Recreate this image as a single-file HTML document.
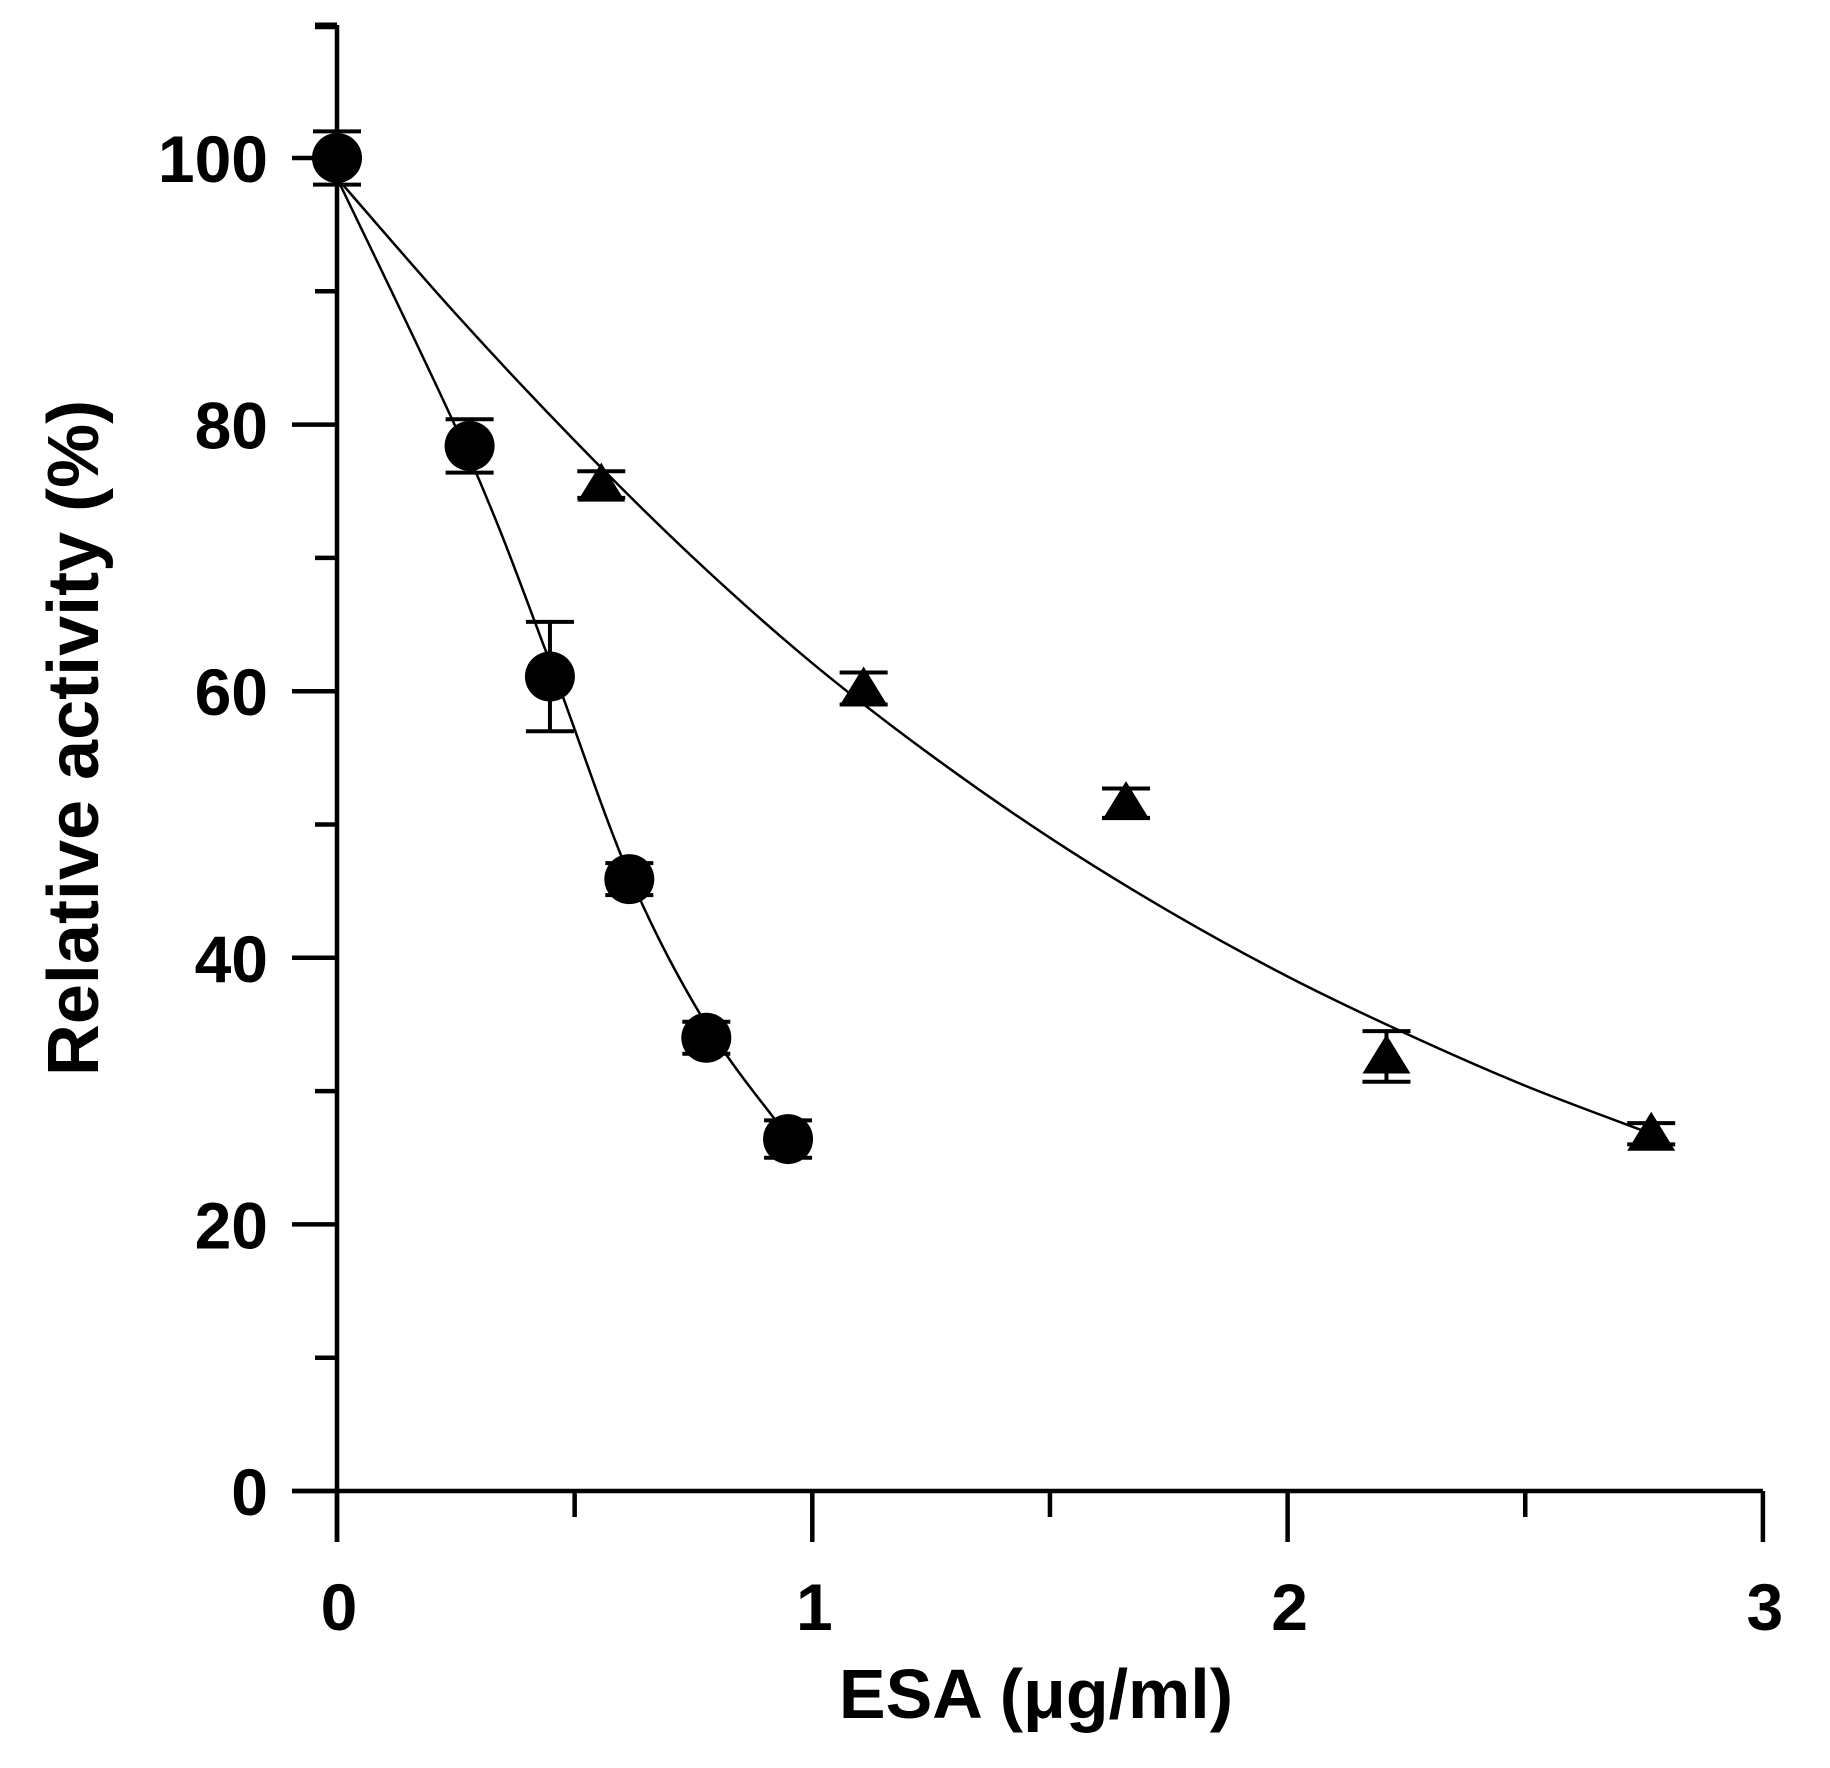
<!DOCTYPE html>
<html><head><meta charset="utf-8"><style>
html,body{margin:0;padding:0;background:#fff;}
svg{display:block;}
text{font-family:"Liberation Sans",Arial,sans-serif;font-weight:bold;fill:#000;}
</style></head><body>
<svg id="chart" width="1830" height="1768" viewBox="0 0 1830 1768" xmlns="http://www.w3.org/2000/svg">
<g id="axes"></g>
<g id="curves"></g>
<g id="marks"></g>
<text x="1036" y="1718" font-size="70" text-anchor="middle">ESA (μg/ml)</text>
<text x="0" y="0" font-size="72" text-anchor="middle" transform="translate(98,738) rotate(-90)">Relative activity (%)</text>
</svg>
<script>
const xTicks = [0, 1, 2, 3];
const yTicks = [0, 20, 40, 60, 80, 100];
const circleX = [0, 0.279, 0.448, 0.615, 0.777, 0.949];
const circleY = [100, 78.4, 61.1, 45.9, 34.0, 26.4];
const circleErr = [2.0, 2.0, 4.1, 1.2, 1.2, 1.4];
const triX = [0.556, 1.108, 1.66, 2.208, 2.765];
const triY = [75.5, 60.2, 51.6, 32.6, 26.8];
const triErr = [1.0, 1.2, 1.1, 1.9, 0.8];
const circleFitX = [0, 0.279, 0.448, 0.615, 0.777, 0.949];
const circleFitY = [98.5, 77.5, 62.2, 46.2, 35.0, 26.6];
const triFitX = [0, 0.25, 0.5, 0.75, 1, 1.25, 1.5, 1.75, 2, 2.25, 2.5, 2.75];
const triFitY = [98.5, 88.3, 78.8, 70.0, 62.1, 55.2, 49.0, 43.5, 38.6, 34.3, 30.4, 27.0];

const NS = "http://www.w3.org/2000/svg";
const X0 = 337, XU = 475.3, Y0 = 1491, YU = 13.33;
const sx = v => X0 + v * XU;
const sy = v => Y0 - v * YU;
function mk(tag, attrs, parent) {
  const e = document.createElementNS(NS, tag);
  for (const k in attrs) e.setAttribute(k, attrs[k]);
  parent.appendChild(e);
  return e;
}
const axes = document.getElementById('axes');
const curves = document.getElementById('curves');
const marks = document.getElementById('marks');

let ax = mk('line', {x1: 292, y1: sy(0), x2: sx(3), y2: sy(0), stroke: '#000', 'stroke-width': 4.5}, axes);


let ay = mk('line', {x1: sx(0), y1: 25, x2: sx(0), y2: 1542, stroke: '#000', 'stroke-width': 4.5}, axes);


let topTick = mk('line', {x1: 315, y1: 27, x2: sx(0), y2: 27, stroke: '#000', 'stroke-width': 4.5}, axes);



for (let i = 0; i < xTicks.length; i++) {
  const v = xTicks[i];
  const t = mk('line', {x1: sx(v), y1: sy(0), x2: sx(v), y2: 1542, stroke: '#000', 'stroke-width': 4.5}, axes);
  
  
  const l = mk('text', {x: sx(v) + 2, y: 1630, 'font-size': 66, 'text-anchor': 'middle'}, axes);
  l.textContent = v;
  
  
  if (i < xTicks.length - 1) {
    const m = mk('line', {x1: sx(v + 0.5), y1: sy(0), x2: sx(v + 0.5), y2: 1517, stroke: '#000', 'stroke-width': 4.5}, axes);
    
    
  }
}
for (let i = 0; i < yTicks.length; i++) {
  const v = yTicks[i];
  const t = mk('line', {x1: 292, y1: sy(v), x2: sx(0), y2: sy(v), stroke: '#000', 'stroke-width': 4.5}, axes);
  
  
  const l = mk('text', {x: 268, y: sy(v) + 24, 'font-size': 66, 'text-anchor': 'end'}, axes);
  l.textContent = v;
  
  
  const m = mk('line', {x1: 315, y1: sy(v + 10), x2: sx(0), y2: sy(v + 10), stroke: '#000', 'stroke-width': 4.5}, axes);
  
  
}

function smooth(xs, ys, name) {
  const P = xs.map((x, i) => [sx(x), sy(ys[i])]);
  let d = 'M' + P[0][0] + ',' + P[0][1];
  for (let i = 0; i < P.length - 1; i++) {
    const p0 = P[i - 1] || P[i], p1 = P[i], p2 = P[i + 1], p3 = P[i + 2] || P[i + 1];
    const c1x = p1[0] + (p2[0] - p0[0]) / 6, c1y = p1[1] + (p2[1] - p0[1]) / 6;
    const c2x = p2[0] - (p3[0] - p1[0]) / 6, c2y = p2[1] - (p3[1] - p1[1]) / 6;
    d += ' C' + c1x + ',' + c1y + ' ' + c2x + ',' + c2y + ' ' + p2[0] + ',' + p2[1];
  }
  const p = mk('path', {d: d, fill: 'none', stroke: '#000', 'stroke-width': 2.5}, curves);
  
  
}
smooth(circleFitX, circleFitY, 'circle-series-line');
smooth(triFitX, triFitY, 'triangle-series-fit-curve');

function errBar(x, y, e, name) {
  const g = mk('g', {stroke: '#000', 'stroke-width': 4}, marks);
  
  
  mk('line', {x1: sx(x), y1: sy(y + e), x2: sx(x), y2: sy(y - e)}, g);
  mk('line', {x1: sx(x) - 24, y1: sy(y + e), x2: sx(x) + 24, y2: sy(y + e)}, g);
  mk('line', {x1: sx(x) - 24, y1: sy(y - e), x2: sx(x) + 24, y2: sy(y - e)}, g);
}
for (let i = 0; i < circleX.length; i++) {
  errBar(circleX[i], circleY[i], circleErr[i], 'circle-error-bar');
  const c = mk('circle', {cx: sx(circleX[i]), cy: sy(circleY[i]), r: 25, fill: '#000'}, marks);
  
  
}
for (let i = 0; i < triX.length; i++) {
  errBar(triX[i], triY[i], triErr[i], 'triangle-error-bar');
  const cx = sx(triX[i]), cy = sy(triY[i]);
  const t = mk('polygon', {points: (cx - 24) + ',' + (cy + 17) + ' ' + (cx + 24) + ',' + (cy + 17) + ' ' + cx + ',' + (cy - 22), fill: '#000'}, marks);
  
  
}
</script>
</body></html>
